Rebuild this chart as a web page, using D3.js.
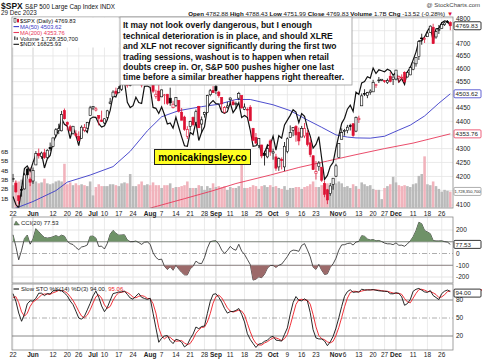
<!DOCTYPE html>
<html><head><meta charset="utf-8">
<script src="https://cdn.jsdelivr.net/npm/d3@7"></script>
<style>body{margin:0;background:#fff}svg{display:block;font-family:"Liberation Sans",Arial,sans-serif}</style>
</head><body><svg id="c" width="482" height="360"></svg>
<script>
const dates = ["05-22","05-23","05-24","05-25","05-26","05-30","05-31",
"06-01","06-02","06-05","06-06","06-07","06-08","06-09","06-12","06-13","06-14","06-15","06-16","06-20","06-21","06-22","06-23","06-26","06-27","06-28","06-29","06-30",
"07-03","07-05","07-06","07-07","07-10","07-11","07-12","07-13","07-14","07-17","07-18","07-19","07-20","07-21","07-24","07-25","07-26","07-27","07-28","07-31",
"08-01","08-02","08-03","08-04","08-07","08-08","08-09","08-10","08-11","08-14","08-15","08-16","08-17","08-18","08-21","08-22","08-23","08-24","08-25","08-28","08-29","08-30","08-31",
"09-01","09-05","09-06","09-07","09-08","09-11","09-12","09-13","09-14","09-15","09-18","09-19","09-20","09-21","09-22","09-25","09-26","09-27","09-28","09-29",
"10-02","10-03","10-04","10-05","10-06","10-09","10-10","10-11","10-12","10-13","10-16","10-17","10-18","10-19","10-20","10-23","10-24","10-25","10-26","10-27","10-30","10-31",
"11-01","11-02","11-03","11-06","11-07","11-08","11-09","11-10","11-13","11-14","11-15","11-16","11-17","11-20","11-21","11-22","11-24","11-27","11-28","11-29","11-30",
"12-01","12-04","12-05","12-06","12-07","12-08","12-11","12-12","12-13","12-14","12-15","12-18","12-19","12-20","12-21","12-22","12-26","12-27","12-28","12-29"];
const spxOpen = [4190,4176,4132,4155,4156,4226,4190,
4184,4241,4282,4272,4285,4268,4304,4308,4350,4366,4365,4440,4396,4380,4355,4354,4345,4337,4367,4375,4422,
4450,4442,4422,4405,4394,4415,4467,4492,4514,4508,4521,4563,4555,4550,4544,4560,4558,4598,4565,4585,
4579,4550,4494,4514,4492,4498,4502,4487,4451,4459,4479,4434,4416,4345,4381,4415,4397,4456,4390,4426,4433,4500,4517,
4531,4510,4490,4434,4452,4481,4473,4463,4487,4497,4445,4445,4453,4374,4341,4311,4313,4283,4270,4328,
4284,4270,4234,4260,4234,4289,4340,4367,4381,4360,4342,4346,4357,4321,4274,4210,4235,4233,4175,4153,4140,4172,
4201,4268,4334,4365,4366,4384,4391,4364,4406,4458,4505,4497,4509,4511,4538,4554,4555,4554,4546,4571,4559,
4560,4564,4564,4586,4568,4576,4598,4619,4647,4721,4715,4726,4743,4764,4725,4753,4759,4774,4787,4783];
const spxHigh = [4209,4186,4133,4165,4213,4231,4196,
4232,4291,4300,4289,4299,4298,4322,4340,4375,4391,4439,4448,4400,4387,4382,4367,4363,4385,4390,4398,4458,
4457,4454,4422,4440,4412,4443,4488,4517,4527,4533,4562,4578,4565,4555,4564,4581,4582,4607,4590,4595,
4584,4551,4519,4540,4520,4503,4503,4527,4477,4490,4479,4450,4421,4382,4402,4418,4444,4458,4418,4436,4500,4522,4533,
4541,4515,4490,4457,4473,4490,4481,4474,4511,4497,4467,4452,4461,4376,4357,4338,4314,4292,4317,4334,
4300,4281,4268,4268,4324,4341,4385,4378,4386,4377,4383,4394,4368,4339,4276,4255,4255,4233,4184,4156,4177,4194,
4245,4320,4374,4372,4387,4391,4394,4418,4421,4505,4521,4511,4521,4557,4542,4568,4560,4555,4562,4587,4570,
4595,4574,4578,4590,4590,4610,4623,4644,4709,4738,4725,4748,4768,4778,4749,4773,4785,4785,4793,4788];
const spxLow = [4180,4143,4103,4129,4154,4192,4166,
4174,4241,4264,4263,4263,4265,4291,4305,4341,4353,4363,4407,4367,4361,4351,4341,4328,4336,4360,4371,4422,
4442,4437,4385,4398,4389,4408,4464,4490,4500,4505,4514,4557,4527,4532,4541,4556,4547,4528,4564,4580,
4567,4506,4485,4475,4491,4464,4461,4458,4448,4454,4433,4404,4365,4335,4365,4382,4397,4376,4357,4414,4432,4494,4507,
4502,4489,4442,4430,4448,4468,4460,4446,4479,4448,4442,4417,4402,4329,4316,4302,4265,4239,4265,4274,
4260,4220,4220,4225,4219,4283,4339,4345,4325,4312,4342,4338,4308,4269,4223,4189,4220,4181,4127,4103,4132,4153,
4198,4268,4334,4347,4356,4366,4343,4360,4394,4458,4495,4487,4500,4511,4526,4545,4552,4545,4541,4547,4537,
4555,4546,4556,4546,4566,4575,4594,4608,4634,4694,4701,4726,4743,4698,4718,4737,4759,4769,4780,4752];
const spxClose = [4192.6,4145.6,4115.2,4151.3,4205.5,4205.5,4179.8,
4221.0,4282.4,4273.8,4283.9,4267.5,4293.9,4298.9,4338.9,4369.0,4372.6,4425.8,4409.6,4388.7,4365.7,4381.9,4348.3,4328.8,4378.4,4376.9,4396.4,4450.4,
4455.6,4446.8,4411.6,4398.9,4409.5,4439.3,4472.2,4510.0,4505.4,4522.8,4554.6,4565.7,4534.9,4536.3,4554.6,4567.5,4566.8,4537.4,4582.2,4589.0,
4576.7,4513.4,4501.9,4478.0,4518.4,4499.4,4467.7,4468.8,4464.1,4489.7,4437.9,4404.3,4370.4,4369.7,4399.8,4387.6,4436.0,4376.3,4405.7,4433.3,4497.6,4514.9,4507.7,
4515.8,4496.8,4465.5,4451.1,4457.5,4487.5,4461.9,4467.4,4505.1,4450.3,4453.5,4444.0,4402.2,4330.0,4320.1,4337.4,4273.5,4274.5,4299.7,4288.1,
4288.4,4229.5,4263.8,4258.2,4308.5,4335.7,4358.2,4377.0,4349.6,4327.8,4373.6,4373.2,4314.6,4278.0,4224.2,4217.0,4247.7,4186.8,4137.2,4117.4,4166.8,4193.8,
4237.9,4317.8,4358.3,4366.0,4378.4,4382.8,4347.4,4415.2,4411.6,4495.7,4502.9,4508.2,4514.0,4547.4,4538.2,4556.6,4559.3,4550.4,4554.9,4550.6,4567.8,
4594.6,4569.8,4567.2,4549.3,4585.6,4604.4,4622.4,4643.7,4707.1,4719.6,4719.2,4740.6,4768.4,4698.4,4746.8,4754.6,4774.8,4781.6,4783.4,4769.8];
const volumeB = [2.4,2.8,2.8,3.0,2.6,3.1,4.3,
3.0,2.8,2.6,2.7,3.1,2.6,2.5,2.6,2.8,2.9,2.8,4.7,2.5,2.7,2.4,2.6,2.4,2.5,2.4,2.3,2.8,
1.3,2.2,2.5,2.3,2.3,2.3,2.5,2.5,2.4,2.3,2.6,2.7,2.6,3.6,2.3,2.3,2.5,2.8,2.4,2.5,
2.4,2.7,2.4,2.4,2.1,2.4,2.4,2.6,2.1,2.2,2.2,2.3,2.4,2.8,2.1,2.1,2.1,2.4,2.3,1.9,2.3,2.1,2.6,
2.2,2.3,2.2,2.3,1.9,2.2,2.1,2.1,2.3,4.6,2.1,2.1,2.2,2.4,2.3,2.0,2.3,2.4,2.2,2.4,
2.2,2.3,2.1,2.0,2.3,1.9,2.1,2.1,2.2,2.2,2.0,2.2,2.3,2.5,2.8,2.2,2.2,2.4,2.6,2.6,2.3,2.6,
2.6,2.8,2.6,2.2,2.3,2.1,2.5,2.3,2.0,2.7,2.5,2.3,2.4,2.0,1.9,1.9,0.9,2.1,2.3,2.5,3.3,
2.7,2.4,2.3,2.4,2.3,2.2,2.5,2.6,3.4,3.6,5.5,2.5,2.4,2.8,2.3,2.0,1.7,1.9,1.8,1.7];
const ndxClose = [13807,13665,13604,13938,14299,14348,14254,
14410,14547,14546,14566,14311,14471,14533,14763,14876,14987,15186,15083,15048,14830,15024,14891,14706,14967,15001,14939,15179,
15210,15204,15093,15034,15056,15160,15326,15582,15565,15707,15829,15842,15470,15377,15410,15559,15465,15449,15752,15758,
15734,15380,15364,15274,15389,15250,15087,15107,15015,15205,15030,14860,14703,14694,14940,14900,15126,14796,14942,15037,15369,15453,15501,
15446,15441,15303,15276,15305,15461,15287,15363,15464,15202,15238,15203,14981,14694,14702,14769,14546,14582,14709,14715,
14872,14626,14881,14837,15072,15155,15240,15339,15299,15111,15271,15225,15018,14874,14663,14728,14863,14483,14110,14180,14338,14409,
14665,14882,15099,15188,15349,15420,15311,15650,15608,15812,15836,15921,15897,16073,15979,16044,16027,16010,16054,16027,15948,
15997,15827,15888,15787,16011,16085,16220,16357,16557,16556,16624,16729,16806,16553,16770,16777,16877,16906,16898,16826];
// 20 sessions before 22 May (for indicator look-back)
const preHigh = [4142,4127,4089,4139,4170,4186,4164,4149,4082,4147,4143,4131,4154,4133,4143,4139,4135,4164,4203,4213];
const preLow  = [4115,4071,4049,4072,4128,4164,4100,4088,4048,4077,4123,4116,4099,4110,4098,4110,4109,4114,4145,4180];
const preClose= [4137.0,4071.6,4056.0,4135.4,4169.5,4167.9,4119.6,4090.8,4061.2,4136.3,4138.1,4119.2,4137.6,4130.6,4124.1,4136.3,4109.9,4158.8,4198.1,4192.0];
const ma50Dates  = ["05-22","05-24","06-01","06-13","06-20","06-30","07-13","07-21","07-31","08-07","08-15","08-25","09-05","09-13","09-20","10-02","10-10","10-18","10-25","11-01","11-07","11-10","11-17","11-27","12-04","12-08","12-15","12-22","12-29"];
const ma50Values = [4085,4093,4112,4150,4180,4205,4235,4290,4365,4417,4440,4455,4464,4482,4482,4462,4440,4405,4378,4350,4342,4339,4338,4345,4368,4386,4420,4468,4503.62];
const ma200Dates  = ["07-21","08-02","08-17","08-31","09-13","09-29","10-13","10-27","11-10","11-27","12-11","12-29"];
const ma200Values = [4065,4092,4122,4150,4175,4205,4232,4255,4278,4300,4320,4353.76];
const priceTicks = [4100,4150,4200,4250,4300,4350,4400,4450,4500,4550,4600,4650,4700,4750,4800];
const volTicks = [1,2,3,4,5,6];
const cciTicks = [-200,-100,0,100,200];
const stoTicks = [20,50,80];
const dateTickDates  = ["05-22","06-01","06-12","06-20","06-26","07-03","07-10","07-17","07-24","08-01","08-07","08-14","08-21","08-28","09-01","09-11","09-18","09-25","10-02","10-09","10-16","10-23","11-01","11-06","11-13","11-20","11-27","12-01","12-11","12-18","12-26"];
const dateTickLabels = ["22","Jun","12","20","26","Jul","10","17","24","Aug","7","14","21","28","Sep","11","18","25","Oct","9","16","23","Nov","6","13","20","27","Dec","11","18","26"];
const commentary = ["It may not look overly dangerous, but I enough",
"technical deterioration is in place, and should XLRE",
"and XLF not recover significantly during the first two",
"trading sessions, washout is to happen when retail",
"doubts creep in. Or, S&P 500 pushes higher one last",
"time before a similar breather happens right thereafter."];

// ---------- indicators from the price data ----------
const aH = preHigh.concat(spxHigh), aL = preLow.concat(spxLow), aC = preClose.concat(spxClose);
const P = preClose.length, N = spxClose.length;
const fastK = aC.map((c,i)=>{ if(i<13) return null; const hh=d3.max(aH.slice(i-13,i+1)), ll=d3.min(aL.slice(i-13,i+1)); return 100*(c-ll)/(hh-ll);});
const slowKa = fastK.map((v,i)=> i<15?null:d3.mean(fastK.slice(i-2,i+1)));
const slowDa = slowKa.map((v,i)=> i<17?null:d3.mean(slowKa.slice(i-2,i+1)));
const tp = aC.map((c,i)=>(aH[i]+aL[i]+c)/3);
const cciA = tp.map((t,i)=>{ if(i<19) return null; const w=tp.slice(i-19,i+1), m=d3.mean(w), md=d3.mean(w,v=>Math.abs(v-m)); return (t-m)/(0.015*md);});
const slowK = slowKa.slice(P), slowD = slowDa.slice(P), cci = cciA.slice(P);

// ---------- layout ----------
const svg = d3.select('#c');
const L=12, R=453;
const M={y0:17,y1:208}, C={y0:217,y1:283}, S={y0:284,y1:350};
const x = d3.scaleLinear().domain([0,N-1]).range([13,450.3]);
const di = d=>dates.indexOf(d);
const yP = d3.scaleLog().domain([4100,4800]).range([205,18.3]);
const yN = d3.scaleLinear().domain([d3.min(ndxClose),d3.max(ndxClose)]).range([208,21]);
const yV = d3.scaleLinear().domain([0,6]).range([207.5,151.7]);
const yC = d3.scaleLinear().domain([-200,200]).range([277,230]);
const yS = d3.scaleLinear().domain([0,100]).range([348,288]);
const defs = svg.append('defs');
function clip(id,p){defs.append('clipPath').attr('id',id).append('rect').attr('x',L).attr('y',p.y0).attr('width',R-L).attr('height',p.y1-p.y0);}
clip('cm',M);clip('cc',C);clip('cs',S);
defs.append('clipPath').attr('id','cUp').append('rect').attr('x',L).attr('y',C.y0).attr('width',R-L).attr('height',yC(100)-C.y0);
defs.append('clipPath').attr('id','cDn').append('rect').attr('x',L).attr('y',yC(-100)).attr('width',R-L).attr('height',C.y1-yC(-100));
const txt=(g,xx,yy,s,o={})=>g.append('text').attr('x',xx).attr('y',yy).attr('font-size',o.fs||6.5).attr('font-weight',o.fw||'normal').attr('fill',o.fill||'#222').attr('text-anchor',o.a||'start').text(s);

// vertical grid in all panels
[M,C,S].forEach(p=>{
  const g=svg.append('g');
  dateTickDates.forEach((d,k)=>{
    const isM = /^[A-Z]/.test(dateTickLabels[k]);
    g.append('line').attr('x1',x(di(d))).attr('x2',x(di(d))).attr('y1',p.y0).attr('y2',p.y1)
     .attr('stroke',isM?'#c4c4c4':'#e6e6e6').attr('stroke-width',0.8);
  });
});
// price grid
const gm = svg.append('g').attr('clip-path','url(#cm)');
priceTicks.forEach(v=>gm.append('line').attr('x1',L).attr('x2',R).attr('y1',yP(v)).attr('y2',yP(v)).attr('stroke','#e4e4e4').attr('stroke-width',0.8));
// volume
const bw = x(1)-x(0);
gm.selectAll('rect.v').data(volumeB).enter().append('rect')
  .attr('x',(v,i)=>x(i)-bw/2+0.15).attr('width',bw-0.3)
  .attr('y',v=>yV(v)).attr('height',v=>yV(0)-yV(v))
  .attr('fill',(v,i)=>spxClose[i]<(i?spxClose[i-1]:preClose[P-1])?'#f1b3bc':'#bababa');
// moving averages
const line=d3.line();
gm.append('path').attr('d',line(ma200Dates.map((d,k)=>[x(di(d)),yP(ma200Values[k])]))).attr('fill','none').attr('stroke','#e8395a').attr('stroke-width',0.9);
gm.append('path').attr('d',line(ma50Dates.map((d,k)=>[x(di(d)),yP(ma50Values[k])]))).attr('fill','none').attr('stroke','#3a3ac8').attr('stroke-width',0.9);
// NDX overlay
gm.append('path').attr('d',line(ndxClose.map((v,i)=>[x(i),yN(v)]))).attr('fill','none').attr('stroke','#111').attr('stroke-width',1.2);
// candles
spxClose.forEach((c,i)=>{
  const o=spxOpen[i], pc=i?spxClose[i-1]:preClose[P-1];
  const col = c<pc?'#dd1133':'#000';
  const xi=x(i);
  gm.append('line').attr('x1',xi).attr('x2',xi).attr('y1',yP(spxHigh[i])).attr('y2',yP(spxLow[i])).attr('stroke',col).attr('stroke-width',0.8);
  const top=Math.min(yP(o),yP(c)), h=Math.max(0.8,Math.abs(yP(o)-yP(c)));
  gm.append('rect').attr('x',xi-1.1).attr('width',2.2).attr('y',top).attr('height',h)
    .attr('fill',c<o?col:'#fff').attr('stroke',col).attr('stroke-width',0.6);
});
// CCI
const gc=svg.append('g').attr('clip-path','url(#cc)');
[-200,200].forEach(v=>gc.append('line').attr('x1',L).attr('x2',R).attr('y1',yC(v)).attr('y2',yC(v)).attr('stroke','#e4e4e4'));
const areaUp=d3.area().x((v,i)=>x(i)).y0(yC(100)).y1(v=>yC(v));
const areaDn=d3.area().x((v,i)=>x(i)).y0(yC(-100)).y1(v=>yC(v));
svg.append('path').attr('clip-path','url(#cUp)').attr('d',areaUp(cci)).attr('fill','#6f9268');
svg.append('path').attr('clip-path','url(#cDn)').attr('d',areaDn(cci)).attr('fill','#9c6a6a');
[100,-100].forEach(v=>gc.append('line').attr('x1',L).attr('x2',R).attr('y1',yC(v)).attr('y2',yC(v)).attr('stroke','#7a7a7a').attr('stroke-width',0.9));
gc.append('line').attr('x1',L).attr('x2',R).attr('y1',yC(0)).attr('y2',yC(0)).attr('stroke','#999').attr('stroke-dasharray','5,2,1,2').attr('stroke-width',0.8);
gc.append('path').attr('d',line(cci.map((v,i)=>[x(i),yC(v)]))).attr('fill','none').attr('stroke','#222').attr('stroke-width',0.8);
// Stochastic
const gs=svg.append('g').attr('clip-path','url(#cs)');
[80,20].forEach(v=>gs.append('line').attr('x1',L).attr('x2',R).attr('y1',yS(v)).attr('y2',yS(v)).attr('stroke','#7a7a7a').attr('stroke-width',0.9));
gs.append('line').attr('x1',L).attr('x2',R).attr('y1',yS(50)).attr('y2',yS(50)).attr('stroke','#999').attr('stroke-dasharray','5,2,1,2').attr('stroke-width',0.8);
gs.append('path').attr('d',line(slowD.map((v,i)=>[x(i),yS(v)]))).attr('fill','none').attr('stroke','#ee1c25').attr('stroke-width',0.9);
gs.append('path').attr('d',line(slowK.map((v,i)=>[x(i),yS(v)]))).attr('fill','none').attr('stroke','#111').attr('stroke-width',0.9);

// panel borders
[M,C,S].forEach(p=>svg.append('rect').attr('x',L).attr('y',p.y0).attr('width',R-L).attr('height',p.y1-p.y0).attr('fill','none').attr('stroke','#8a8a8a').attr('stroke-width',0.8));

// value boxes on right (they cover the tick labels they sit on)
const boxes=[[yP(4769.83),'4769.83','#000'],[yP(4503.62),'4503.62','#3a3ac8'],[yP(4353.76),'4353.76','#e8395a'],[yV(1.728),'1,728,350,700','#999'],[yC(77.53),'77.53','#000'],[yS(94.0)+1.5,'94.00','#000']];
const free=yy=>boxes.every(b=>Math.abs(b[0]-yy)>6.5);
// axes labels
priceTicks.forEach(v=>{if(free(yP(v)))txt(svg,456,yP(v)+2.3,v);});
volTicks.forEach(v=>txt(svg,1,yV(v)+2.3,v+'B',{fs:6}));
cciTicks.forEach(v=>{if(free(yC(v)))txt(svg,456,yC(v)+2.3,v);});
stoTicks.forEach(v=>{if(free(yS(v)))txt(svg,456,yS(v)+2.3,v);});
[213.5,354.5].forEach(yy=>dateTickDates.forEach((d,k)=>{
  const isM=/^[A-Z]/.test(dateTickLabels[k]);
  txt(svg,x(di(d)),yy+2.3,dateTickLabels[k],{a:'middle',fw:isM?'bold':'normal'});
}));
svg.append('line').attr('x1',454).attr('x2',482).attr('y1',yS(95.06)-1).attr('y2',yS(95.06)-1).attr('stroke','#ee1c25').attr('stroke-width',1.2);
boxes.forEach(([yy,s,col])=>{
  svg.append('rect').attr('x',454).attr('y',yy-4).attr('width',27).attr('height',8).attr('rx',1).attr('fill','#fff').attr('stroke',col).attr('stroke-width',0.8);
  if(s.length>8) txt(svg,454.6,yy+1.6,s,{fs:4.05});
  else txt(svg,455.5,yy+2.2,s,{fs:6.2});
});

// header
const h1=svg.append('text').attr('x',1).attr('y',8.5).attr('fill','#111');
h1.append('tspan').attr('font-size',8.5).attr('font-weight','bold').text('$SPX ');
h1.append('tspan').attr('font-size',6.3).text('S&P 500 Large Cap Index INDX');
txt(svg,1,15.3,'29 Dec 2023',{fs:6.3});
txt(svg,480,7,'@ StockCharts.com',{fs:6,a:'end',fill:'#444'});
const h2=svg.append('text').attr('x',453).attr('y',15.5).attr('font-size',6.2).attr('text-anchor','end').attr('fill','#111');
[['Open ','4782.88 '],['High ','4788.43 '],['Low ','4751.99 '],['Close ','4769.83 '],['Volume ','1.7B '],['Chg ','-13.52 (-0.28%) ']].forEach(([a,b])=>{h2.append('tspan').attr('font-weight','bold').text(a);h2.append('tspan').text(b);});
h2.append('tspan').attr('fill','#dd1133').text('▼');

// legend
svg.append('rect').attr('x',L+0.5).attr('y',M.y0+0.5).attr('width',106).attr('height',30).attr('fill','#fff');
const lg=[['$SPX (Daily) 4769.83','#111'],['MA(50) 4503.62','#3a3ac8'],['MA(200) 4353.76','#e8395a'],['Volume 1,728,350,700','#111'],['$NDX 16825.93','#111']];
lg.forEach(([s,c],k)=>{
  const yy=20.7+k*5.9;
  if(k===0){svg.append('rect').attr('x',14).attr('y',yy-2.5).attr('width',2).attr('height',4).attr('fill','#fff').attr('stroke','#000').attr('stroke-width',0.5);
            svg.append('rect').attr('x',17).attr('y',yy-1.8).attr('width',2).attr('height',3.5).attr('fill','#dd1133');}
  else if(k===3){svg.append('rect').attr('x',14).attr('y',yy-2).attr('width',1.5).attr('height',3.5).attr('fill','#555');svg.append('rect').attr('x',16.5).attr('y',yy-1).attr('width',1.5).attr('height',2.5).attr('fill','#555');}
  else svg.append('line').attr('x1',13.5).attr('x2',19).attr('y1',yy).attr('y2',yy).attr('stroke',c).attr('stroke-width',1.1);
  txt(svg,20,yy+2.1,s,{fs:5.8,fill:c});
});
// commentary box
svg.append('rect').attr('x',120).attr('y',M.y0).attr('width',232).attr('height',68).attr('fill','#fff').attr('stroke','#9a9a9a').attr('stroke-width',0.8);
commentary.forEach((s,k)=>txt(svg,123,28.3+k*10.4,s,{fs:8.5,fw:'bold',fill:'#111'}));
// watermark
svg.append('rect').attr('x',154.5).attr('y',149.5).attr('width',96).attr('height',15).attr('fill','#ffff22').attr('stroke','#222').attr('stroke-width',1);
txt(svg,202.5,160.6,'monicakingsley.co',{fs:10,fw:'bold',a:'middle',fill:'#000'});
// indicator legends
svg.append('path').attr('d','M14,225 L16,221 L18,223.5 L19.5,225 Z').attr('fill','#6f9268').attr('stroke','#333').attr('stroke-width',0.4);
txt(svg,21,224.6,'CCI(20) 77.53',{fs:6,fill:'#222'});
svg.append('line').attr('x1',13.5).attr('x2',19).attr('y1',289).attr('y2',289).attr('stroke','#111').attr('stroke-width',1.1);
const sl=svg.append('text').attr('x',21).attr('y',291.2).attr('font-size',6).attr('fill','#222');
sl.append('tspan').text('Slow STO %K(14) %D(3) 94.00, ');
sl.append('tspan').attr('fill','#ee1c25').text('95.06');
</script></body></html>
